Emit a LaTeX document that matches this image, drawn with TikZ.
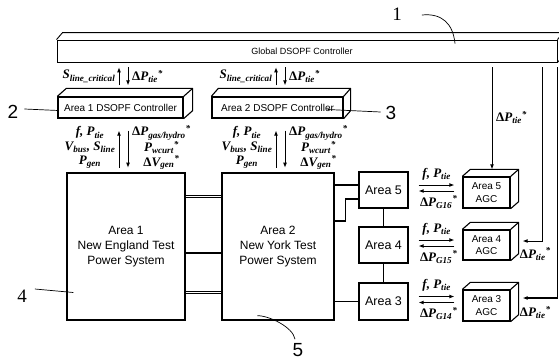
\documentclass[tikz,border=0pt]{standalone}
\usepackage{fontspec}
\setmainfont{Liberation Sans}
\newfontfamily\tms{Liberation Serif}
\usetikzlibrary{arrows.meta,calc}
\newcommand{\sbs}[1]{\textsubscript{#1}}
\newcommand{\sps}{\textsuperscript{*}}
\newcommand{\Dl}{{\upshape Δ}}
\newcommand{\cuboid}[3]{%
  \draw[line width=1.1pt,line join=round] (#1.north west) -- ++(#2,#3) -- ($(#1.north east)+(#2,#3)$) -- ($(#1.south east)+(#2,#3)$) -- (#1.south east)
  (#1.north east) -- ++(#2,#3);}
\tikzset{
  box/.style={draw, line width=1.3pt, inner sep=0pt, align=center},
  arr/.style={-{Latex[length=5pt,width=4pt]}, line width=0.9pt},
  lbl/.style={font=\fontsize{13}{14.5}\selectfont\tms\bfseries\itshape, align=center, inner sep=0pt},
  dbl/.style={double, double distance=1.6pt, line width=0.9pt},
  num/.style={font=\fontsize{19}{20}\selectfont, inner sep=0pt},
  wire/.style={line width=1.1pt}
}
\begin{document}
\begin{tikzpicture}[x=1pt,y=-1pt]
\useasboundingbox (0,0) rectangle (559,362);
% global controller
\node[box, line width=0.9pt, minimum width=500pt, minimum height=22pt, font=\fontsize{9}{10}\selectfont] (global) at (307,51) {\hspace*{-10pt}Global DSOPF Controller};
\draw[line width=0.9pt] (global.north west) -- ++(6,-7) -- ($(global.north east)+(6,-7)$) -- ($(global.south east)+(6,-7)$) -- (global.south east) (global.north east) -- ++(6,-7);
% area DSOPF controllers
\node[box, minimum width=125pt, minimum height=21pt, font=\fontsize{10}{12}\selectfont] (a1c) at (120.5,107.5) {Area 1 DSOPF Controller};
\cuboid{a1c}{9}{-8}
\node[box, minimum width=131pt, minimum height=21pt, font=\fontsize{10}{12}\selectfont] (a2c) at (277.5,107.5) {Area 2 DSOPF Controller};
\cuboid{a2c}{7}{-8}
% power systems
\node[box, minimum width=118pt, minimum height=147pt, font=\fontsize{12}{15}\selectfont] (a1) at (126,246.5) {Area 1\\New England Test\\Power System};
\node[box, minimum width=112pt, minimum height=147pt, font=\fontsize{12}{15}\selectfont] (a2) at (278,246.5) {Area 2\\New York Test\\Power System};
% sub areas
\node[box, minimum width=49pt, minimum height=36pt, font=\fontsize{12.5}{14}\selectfont] (ar5) at (383.5,190) {Area 5};
\node[box, minimum width=49pt, minimum height=36pt, font=\fontsize{12.5}{14}\selectfont] (ar4) at (383.5,245) {Area 4};
\node[box, minimum width=49pt, minimum height=37pt, font=\fontsize{12.5}{14}\selectfont] (ar3) at (383.5,301.5) {Area 3};
% AGCs
\node[box, minimum width=47pt, minimum height=31pt, font=\fontsize{10}{12.5}\selectfont] (agc5) at (486.5,192.5) {Area 5\\AGC};
\cuboid{agc5}{8}{-7}
\node[box, minimum width=47pt, minimum height=30pt, font=\fontsize{10}{12.5}\selectfont] (agc4) at (486.5,245) {Area 4\\AGC};
\cuboid{agc4}{8}{-7}
\node[box, minimum width=47pt, minimum height=31pt, font=\fontsize{10}{12.5}\selectfont] (agc3) at (486.5,305.5) {Area 3\\AGC};
\cuboid{agc3}{8}{-7}
% global <-> area controllers
\foreach \c in {a1c,a2c}{
  \draw[arr] ($(\c.north)+(-1.5,-11)$) -- ($(\c.north)+(-1.5,-29)$);
  \draw[arr] ($(\c.north)+(7.5,-29)$) -- ($(\c.north)+(7.5,-11)$);
  \node[lbl, anchor=east] at ($(\c.north)+(-5,-20)$) {S\sbs{line\_critical}};
  \node[lbl, anchor=west] at ($(\c.north)+(11.5,-20)$) {\Dl P\sbs{tie}\sps};
  \draw[arr] ($(\c.south)+(-1.5,49)$) -- ($(\c.south)+(-1.5,12)$);
  \draw[arr] ($(\c.south)+(7.5,12)$) -- ($(\c.south)+(7.5,49)$);
  \node[lbl, anchor=east] at ($(\c.south)+(-5,29)$) {f, P\sbs{tie}\\V\sbs{bus}, S\sbs{line}\\P\sbs{gen}};
  \node[lbl, anchor=west] at ($(\c.south)+(11.5,29)$) {\Dl P\sbs{gas/hydro}\sps\\P\sbs{wcurt}\sps\\\Dl V\sbs{gen}\sps};
}
% tie lines area1 - area2
\draw[dbl] ($(a1.east)+(0,-50)$) -- ($(a2.west)+(0,-50)$);
\draw[wire] ($(a1.east)+(0,6.5)$) -- ($(a2.west)+(0,6.5)$);
\draw[dbl] ($(a1.east)+(0,46)$) -- ($(a2.west)+(0,46)$);
% area2 - sub areas
\draw[wire] ($(ar5.west)+(0,-5)$) -- ($(a2.east)+(0,-61.5)$);
\draw[wire] ($(a2.east)+(0,-25.5)$) -- ++(11,0) |- ($(ar5.west)+(0,9)$);
\draw[wire] (ar3.west) -- (ar3.west -| a2.east);
\draw[wire] (ar5.south) -- (ar4.north);
\draw[wire] (ar4.south) -- (ar3.north);
% area <-> AGC
\foreach \n/\g in {5/16,4/15,3/14}{
  \coordinate (e\n) at ($(agc\n.west)+(-8,0)$);
  \coordinate (p\n) at ($(ar\n.east)+(10,-5)$);
  \coordinate (q\n) at ($(ar\n.east)+(10,1)$);
  \draw[arr] (p\n) -- (p\n -| e\n);
  \draw[arr] (q\n -| e\n) -- (q\n);
  \node[lbl] at ($(ar\n.east)+(28,-16)$) {f, P\sbs{tie}};
  \node[lbl] at ($(ar\n.east)+(30,12)$) {\Dl P\sbs{G\g}\sps};
}
% global -> AGCs
\coordinate (t5) at ($(agc5.north)+(5.5,-7)$);
\draw[arr] ($(t5 |- global.south)+(0,5)$) -- (t5);
\node[lbl, anchor=west] at ($(t5 |- global.south)+(4,55)$) {\Dl P\sbs{tie}\sps};
\coordinate (t4) at ($(agc4.east)+(12,-4)$);
\draw[arr] ($(global.south east)+(-15,5)$) |- (t4);
\node[lbl, anchor=west] at ($(agc4.east)+(9,9)$) {\Dl P\sbs{tie}\sps};
\coordinate (t3) at ($(agc3.east)+(12,-7.5)$);
\draw[arr, line width=1.4pt] ($(global.south east)+(0,5)$) |- (t3);
\node[lbl, anchor=west] at ($(agc3.east)+(9,7)$) {\Dl P\sbs{tie}\sps};
% callouts
\node[num, font=\fontsize{19}{20}\selectfont\tms] (n1) at (397,14) {1};
\draw[line width=0.7pt] ($(n1.east)+(20,1)$) .. controls ++(20,-2) and ++(-2,-20) .. ($(global.north)+(148,4)$);
\node[num] (n2) at (13,112) {2};
\draw[line width=0.7pt] ($(n2.east)+(6,-3)$) -- ($(a1c.west)+(1,3)$);
\node[num] (n3) at (391,113) {3};
\draw[line width=0.7pt] ($(n3.west)+(-5,-1)$) -- ($(a2c.east)+(-16,2)$);
\node[num, font=\fontsize{19}{20}\selectfont\tms] (n4) at (22,296) {4};
\draw[line width=0.7pt] ($(n4.east)+(8,-7)$) -- ($(a1.west)+(7,46)$);
\node[num] (n5) at (298,350) {5};
\draw[line width=0.7pt] ($(n5.north)+(-3,-4)$) .. controls ++(-2,-12) and ++(12,0) .. ($(a2.south west)+(36,-5)$);
\end{tikzpicture}
\end{document}
